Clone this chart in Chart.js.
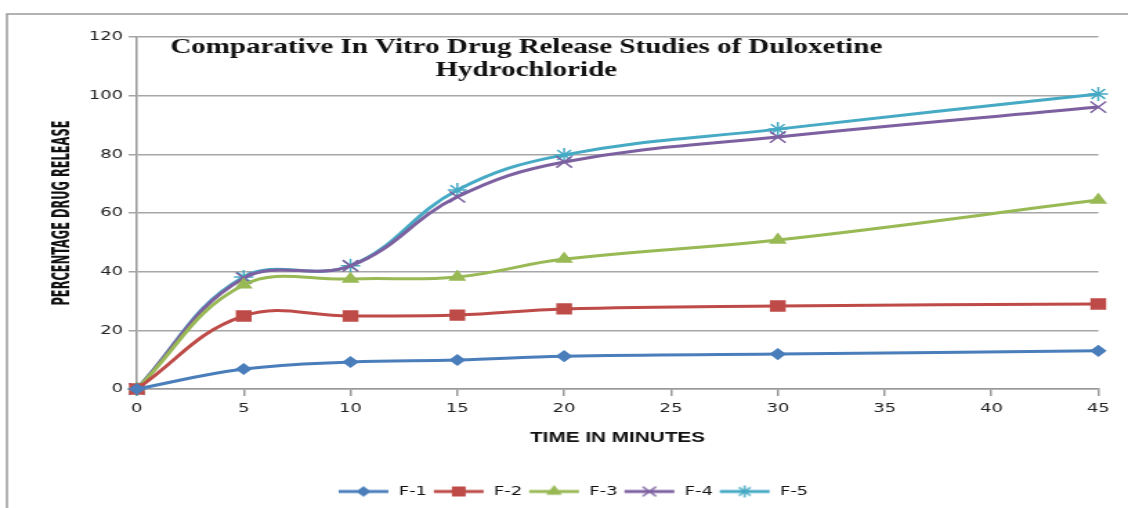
<!DOCTYPE html>
<html>
<head>
<meta charset="utf-8">
<script src="https://cdn.jsdelivr.net/npm/chart.js@4"></script>
<style>
    body { margin: 0; background: #fff; }
</style>
</head>
<body>
<canvas id="myChart" width="816" height="508" style="display:block;width:1128px;height:508px;"></canvas>
<script>
// values
const minutes = [0, 5, 10, 15, 20, 30, 45];
const xTicks = [0, 5, 10, 15, 20, 25, 30, 35, 40, 45];
const yTicks = [0, 20, 40, 60, 80, 100, 120];
const seriesNames = ['F-1', 'F-2', 'F-3', 'F-4', 'F-5'];
const f1 = [0, 6.8, 9.2, 9.9, 11.2, 11.9, 13.0];
const f2 = [0, 24.9, 24.9, 25.2, 27.3, 28.3, 29.0];
const f3 = [0, 35.5, 37.5, 38.2, 44.3, 50.8, 64.4];
const f4 = [0, 37.8, 42.0, 65.5, 77.4, 85.9, 96.1];
const f5 = [0, 38.2, 42.0, 67.8, 79.8, 88.6, 100.6];
const titleLines = ['Comparative In Vitro Drug Release Studies of Duloxetine', 'Hydrochloride'];
const yTitle = 'PERCENTAGE DRUG RELEASE';

const lineColorList = ['#4a7ebb', '#be4b48', '#98b954', '#7d60a0', '#46aac5'];
const markerList = [
    { style: 'rectRot', radius: 5 },
    { style: 'rect', radius: 7 },
    { style: 'triangle', radius: 6 },
    { style: 'crossRot', radius: 8 },
    { style: 'star', radius: 7 },
];

function legendImage(color, marker) {
    const c = document.createElement('canvas');
    c.width = 38;
    c.height = 16;
    const g = c.getContext('2d');
    g.strokeStyle = color;
    g.fillStyle = color;
    g.lineWidth = 3;
    g.beginPath();
    g.moveTo(1, 8);
    g.lineTo(37, 8);
    g.stroke();
    g.lineWidth = 1.5;
    Chart.helpers.drawPoint(g, { pointStyle: marker.style, radius: marker.radius * 0.85, rotation: 0, borderWidth: 1.5 }, 19, 8);
    return c;
}

const seriesValues = [f1, f2, f3, f4, f5];
const datasets = seriesValues.map((vals, i) => ({
    label: seriesNames[i],
    data: vals.map((v, j) => ({ x: minutes[j], y: v })),
    borderColor: lineColorList[i],
    backgroundColor: lineColorList[i],
    pointBorderColor: lineColorList[i],
    pointBackgroundColor: lineColorList[i],
    pointStyle: markerList[i].style,
    pointRadius: markerList[i].radius,
    pointBorderWidth: 1.5,
    borderWidth: 3,
    tension: 0.4,
    clip: false,
}));
const legendImages = seriesNames.map((n, i) => legendImage(lineColorList[i], markerList[i]));

const framePlugin = {
    id: 'frame',
    beforeDraw(chart) {
        const { ctx, width, height } = chart;
        ctx.save();
        ctx.fillStyle = '#fff';
        ctx.fillRect(0, 0, width, height);
        ctx.strokeStyle = '#9a9a9a';
        ctx.lineWidth = 1.5;
        ctx.beginPath();
        ctx.moveTo(5, height);
        ctx.lineTo(5, 14);
        ctx.lineTo(width, 14);
        ctx.stroke();
        ctx.restore();
    },
    afterDraw(chart) {
        const { ctx, chartArea } = chart;
        const cx = chartArea.left + (chartArea.right - chartArea.left) * 0.405;
        ctx.save();
        ctx.font = 'bold 21px "Liberation Serif", "Times New Roman", serif';
        ctx.fillStyle = '#111';
        ctx.textAlign = 'center';
        ctx.textBaseline = 'middle';
        titleLines.forEach((t, i) => ctx.fillText(t, cx, 48 + i * 23));
        ctx.restore();

        // narrow bold y-axis title, squeezed along its length
        ctx.save();
        ctx.font = 'bold 18px "DejaVu Sans Condensed", "Liberation Sans", sans-serif';
        ctx.fillStyle = '#111';
        ctx.textAlign = 'center';
        ctx.textBaseline = 'middle';
        const w = ctx.measureText(yTitle).width;
        ctx.translate(45, (chartArea.top + chartArea.bottom) / 2);
        ctx.rotate(-Math.PI / 2);
        ctx.scale(185 / w, 1);
        ctx.fillText(yTitle, 0, 0);
        ctx.restore();
    },
};

const ctx = document.getElementById('myChart').getContext('2d');
const myChart = new Chart(ctx, {
    type: 'line',
    data: { datasets: datasets },
    plugins: [framePlugin],
    options: {
        responsive: false,
        devicePixelRatio: 1,
        animation: false,
        layout: { padding: { left: 34, top: 37, right: 21.5, bottom: 0 } },
        plugins: {
            legend: {
                position: 'bottom',
                labels: {
                    usePointStyle: true,
                    pointStyleWidth: 38,
                    padding: 4,
                    color: '#111',
                    font: { family: '"DejaVu Sans", Verdana, sans-serif', size: 13 },
                    generateLabels: (chart) => chart.data.datasets.map((ds, i) => ({
                        text: ds.label,
                        pointStyle: legendImages[i],
                        fontColor: '#111',
                        fillStyle: 'transparent',
                        strokeStyle: 'transparent',
                        lineWidth: 0,
                        hidden: false,
                        datasetIndex: i,
                    })),
                },
            },
            tooltip: { enabled: false },
        },
        scales: {
            x: {
                type: 'linear',
                min: 0,
                max: 45,
                afterBuildTicks: (scale) => { scale.ticks = xTicks.map(v => ({ value: v })); },
                afterFit: (scale) => { scale.height = scale.chart.height - scale.chart.legend.height - 389; },
                grid: { drawOnChartArea: false, drawTicks: true, tickLength: 7, color: '#999', lineWidth: 1.5 },
                border: { color: '#999', width: 1.5 },
                ticks: {
                    padding: 5,
                    color: '#222',
                    maxRotation: 0,
                    font: { family: '"DejaVu Sans", Verdana, sans-serif', size: 13 },
                },
                title: {
                    display: true,
                    text: 'TIME IN MINUTES',
                    color: '#111',
                    padding: { top: 0, bottom: 34 },
                    font: { family: '"Liberation Sans", Arial, sans-serif', size: 15, weight: 'bold' },
                },
            },
            y: {
                min: 0,
                max: 120,
                afterBuildTicks: (scale) => { scale.ticks = yTicks.map(v => ({ value: v })); },
                afterFit: (scale) => { scale.width = 65; },
                grid: { color: '#a6a6a6', lineWidth: 1.5, tickLength: 6 },
                border: { color: '#999', width: 1.5 },
                ticks: {
                    padding: 4,
                    color: '#222',
                    font: { family: '"DejaVu Sans", Verdana, sans-serif', size: 13 },
                },
            },
        },
    },
});
</script>
</body>
</html>
